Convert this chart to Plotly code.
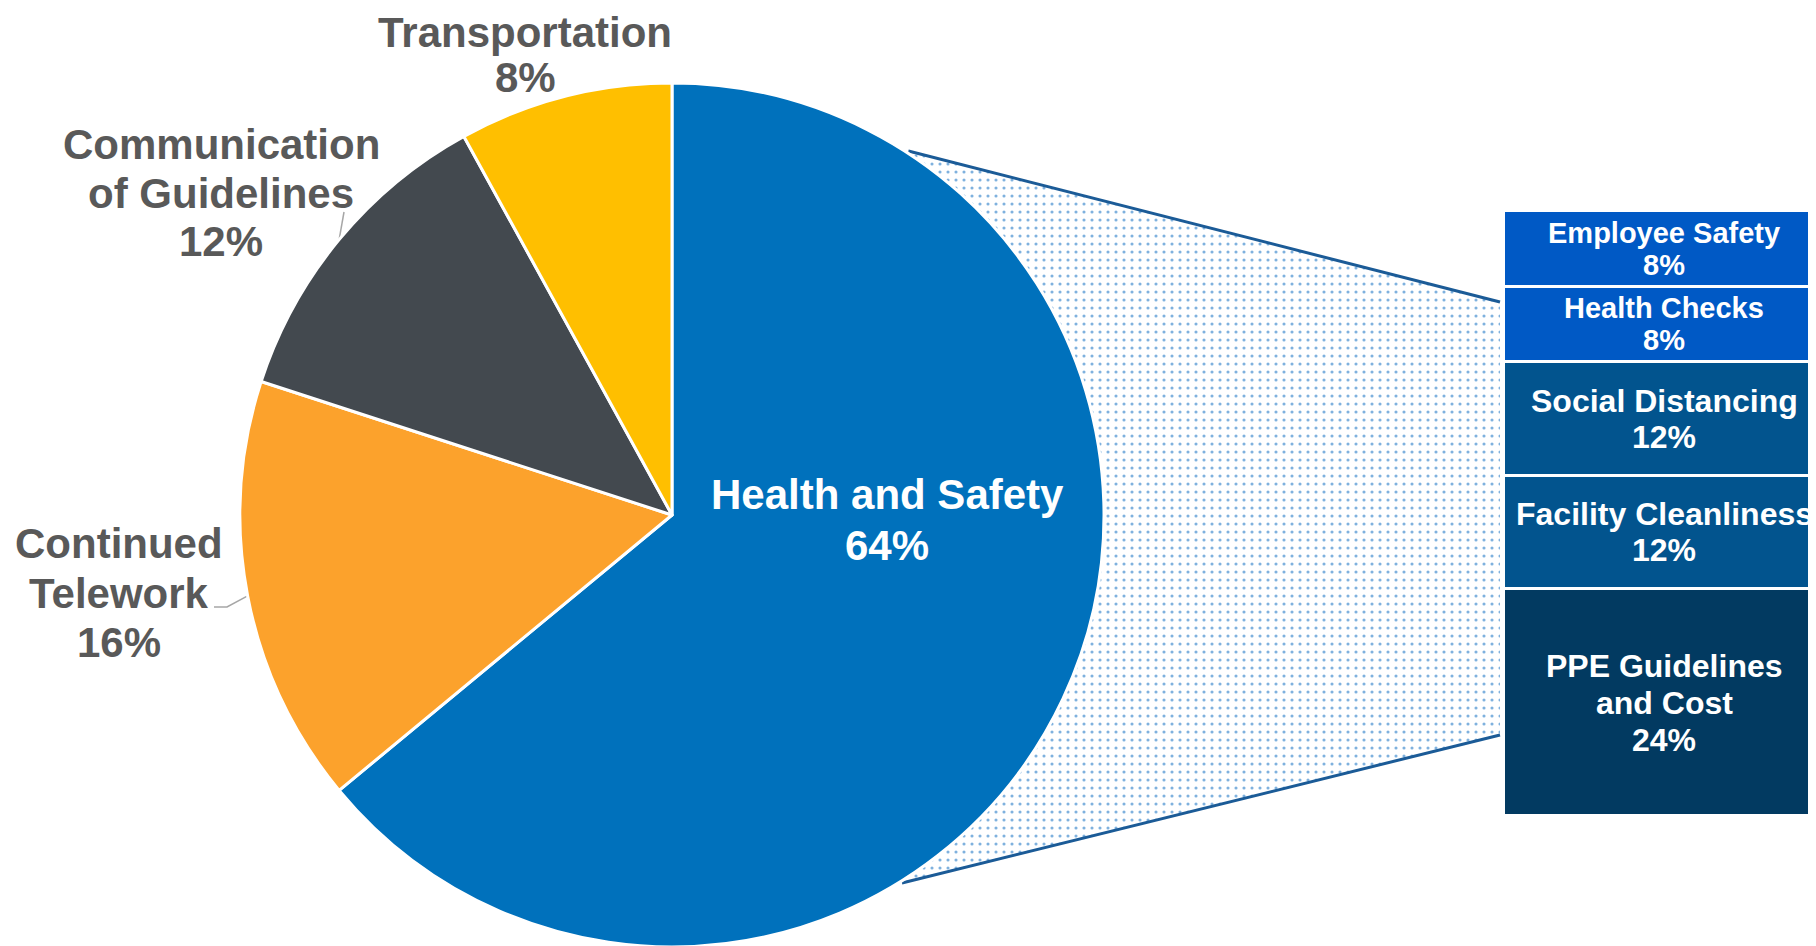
import numpy as np
import plotly.graph_objects as go

# ---------------- data ----------------
pie_labels = ["Health and Safety", "Continued Telework", "Communication of Guidelines", "Transportation"]
pie_values = [64, 16, 12, 8]
pie_display = ["Health and Safety", "Continued<br>Telework", "Communication<br>of Guidelines", "Transportation"]

bar_labels = ["PPE Guidelines and Cost", "Facility Cleanliness", "Social Distancing", "Health Checks", "Employee Safety"]
bar_values = [24, 12, 12, 8, 8]
bar_display = ["PPE Guidelines<br>and Cost", "Facility Cleanliness", "Social Distancing", "Health Checks", "Employee Safety"]

# ---------------- style ----------------
W, H = 1816, 946
OFF = 8  # page body margin: convert page pixel positions into figure pixels
pie_colors = ["#0071BC", "#FCA22C", "#43494F", "#FFBF00"]
bar_colors = ["#023A61", "#02548E", "#02548E", "#0059C5", "#0059C5"]
bar_font_sizes = [32, 32, 32, 29, 29]
bar_line_h = [37, 36, 36, 32, 32]
ARIAL = "Liberation Sans, Arial, sans-serif"
GREY = "#595959"

def px(v):
    return v - OFF

# pie geometry (figure pixels)
R = 432.0
CX, CY = px(672.0), px(515.0)
pie_dom_x = [(CX - R) / W, (CX + R) / W]
pie_dom_y = [(H - CY - R) / H, (H - CY + R) / H]

# bar geometry (figure pixels)
BAR_L, BAR_TOP, BAR_BOT = px(1504), px(211), px(816)
TEXT_CX = px(1664)
bar_dom_x = [BAR_L / W, 1.0]
bar_dom_y = [(H - BAR_BOT) / H, (H - BAR_TOP) / H]
x2_max = 0.5 * (W - BAR_L) / (TEXT_CX - BAR_L)

fig = go.Figure()

# --- connector fill + lines (pixel axes x/y) ---
ang_top, ang_bot = np.deg2rad(33), np.deg2rad(148)
def on_circle(a, r=R):
    return CX + r * np.sin(a), CY - r * np.cos(a)

tx, ty = on_circle(ang_top, R + 2)
bx, by = on_circle(ang_bot, R + 2)
end_top = (px(1500), px(302))
end_bot = (px(1500), px(735))

fig.add_trace(go.Scatter(
    x=[tx, end_top[0], end_bot[0], bx, CX, tx],
    y=[ty, end_top[1], end_bot[1], by, CY, ty],
    mode="lines", fill="toself", line=dict(width=0, color="rgba(0,0,0,0)"),
    fillcolor="white",
    fillpattern=dict(shape=".", fgcolor="#0064BE", bgcolor="white", size=8, solidity=0.12),
    hoverinfo="skip", showlegend=False, xaxis="x", yaxis="y"))
for (sx, sy), (ex, ey) in [((tx, ty), end_top), ((bx, by), end_bot)]:
    fig.add_trace(go.Scatter(x=[sx, ex], y=[sy, ey], mode="lines",
                             line=dict(color="#1B5B97", width=3),
                             hoverinfo="skip", showlegend=False, xaxis="x", yaxis="y"))

# --- leader lines from pie slice mid-angles ---
cum = np.cumsum([0] + pie_values)
tot = cum[-1]
mid_ang = [np.deg2rad((cum[i] + cum[i + 1]) / 2 / tot * 360) for i in range(len(pie_values))]
leader_ends = {1: [(px(227), px(607)), (px(214), px(607))], 2: [(px(344), px(212))]}
for i, pts in leader_ends.items():
    sx, sy = on_circle(mid_ang[i])
    xs = [sx] + [p[0] for p in pts]
    ys = [sy] + [p[1] for p in pts]
    fig.add_trace(go.Scatter(x=xs, y=ys, mode="lines", line=dict(color="#A6A6A6", width=1.5),
                             hoverinfo="skip", showlegend=False, xaxis="x", yaxis="y"))

# --- pie ---
fig.add_trace(go.Pie(
    labels=pie_labels, values=pie_values, sort=False, direction="clockwise", rotation=0,
    marker=dict(colors=pie_colors, line=dict(color="white", width=3)),
    textinfo="none", hoverinfo="label+percent", showlegend=False,
    domain=dict(x=pie_dom_x, y=pie_dom_y)))

# --- stacked bar ---
for lab, val, col in zip(bar_labels, bar_values, bar_colors):
    fig.add_trace(go.Bar(
        x=[0.5], y=[val], width=[1.0], name=lab,
        marker=dict(color=col, line=dict(color="white", width=3)),
        showlegend=False, xaxis="x2", yaxis="y2", hoverinfo="name+y"))

# --- text helper ---
def add_block(lines, x, y, size, color, family, lh, xref, yref):
    n = len(lines)
    for i, t in enumerate(lines):
        fig.add_annotation(x=x, y=y, xref=xref, yref=yref, text="<b>%s</b>" % t,
                           showarrow=False, xanchor="center", yanchor="middle",
                           yshift=((n - 1) / 2 - i) * lh,
                           font=dict(size=size, color=color, family=family))

pct = [f"{v}%" for v in pie_values]
# pie labels (page positions converted to figure pixels)
add_block([pie_display[0], pct[0]], px(887), px(520), 42, "white", ARIAL, 51, "x", "y")
add_block(pie_display[1].split("<br>") + [pct[1]], px(119), px(593), 42, GREY, ARIAL, 49.5, "x", "y")
add_block(pie_display[2].split("<br>") + [pct[2]], px(221), px(193), 42, GREY, ARIAL, 48.5, "x", "y")
add_block(pie_display[3].split("<br>") + [pct[3]], px(525), px(55), 42, GREY, ARIAL, 45, "x", "y")

# bar labels
bcum = np.cumsum([0] + bar_values)
for i, (disp, val) in enumerate(zip(bar_display, bar_values)):
    ymid = (bcum[i] + bcum[i + 1]) / 2
    add_block(disp.split("<br>") + [f"{val}%"], 0.5, ymid, bar_font_sizes[i], "white", ARIAL,
              bar_line_h[i], "x2", "y2")

fig.update_layout(
    width=W, height=H, margin=dict(l=0, r=0, t=0, b=0),
    paper_bgcolor="white", plot_bgcolor="rgba(0,0,0,0)",
    barmode="stack", bargap=0,
    xaxis=dict(domain=[0, 1], range=[0, W], visible=False, fixedrange=True),
    yaxis=dict(domain=[0, 1], range=[H, 0], visible=False, fixedrange=True),
    xaxis2=dict(domain=bar_dom_x, range=[0, x2_max], visible=False, anchor="y2"),
    yaxis2=dict(domain=bar_dom_y, range=[0, sum(bar_values)], visible=False, anchor="x2"),
)

fig.write_html("out.html")
